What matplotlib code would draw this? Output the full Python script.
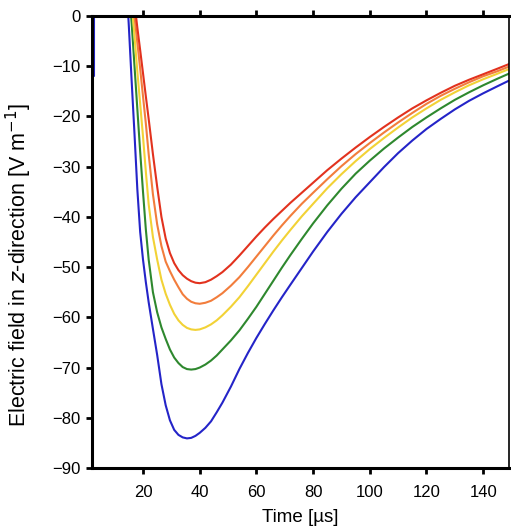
import matplotlib
matplotlib.use('Agg')
from matplotlib import pyplot as plt

plt.rcParams['font.family'] = ['Liberation Sans', 'DejaVu Sans']

# time axis [us], shared by all five curves
t = [14, 15, 16, 17, 18, 19, 20, 21, 22, 23.5, 25, 26.5, 28, 29.5, 31, 32.5,
     34, 35.5, 37, 38.5, 40, 42, 44, 46, 48, 51, 54, 57, 60, 63, 66, 69, 72,
     76, 80, 85, 90, 95, 100, 105, 110, 115, 120, 125, 130, 135, 140, 145, 149]

red = [20, 14, 8, 2.5, -2.3, -6.8, -11.4, -16, -20.5, -27.5, -34.0, -40.0,
       -44.3, -47.2, -49.2, -50.6, -51.6, -52.3, -52.8, -53.1, -53.2, -53.0,
       -52.5, -51.8, -51.0, -49.5, -47.7, -45.8, -43.9, -42.1, -40.4, -38.8,
       -37.2, -35.2, -33.2, -30.7, -28.4, -26.2, -24.1, -22.1, -20.2, -18.4,
       -16.8, -15.3, -13.9, -12.7, -11.6, -10.5, -9.6]
orange = [15, 10, 5, 0, -5.3, -10.5, -16, -21.4, -27.5, -35.5, -41.5, -45.8,
          -48.9, -50.8, -52.5, -54.0, -55.4, -56.3, -56.9, -57.2, -57.3, -57.1,
          -56.7, -56.0, -55.2, -53.7, -52.0, -50.0, -47.9, -45.8, -43.7, -41.7,
          -39.8, -37.4, -35.2, -32.5, -29.9, -27.5, -25.3, -23.2, -21.2, -19.3,
          -17.5, -15.9, -14.5, -13.2, -12.0, -11.0, -10.1]
yellow = [12, 7, 2.5, -4, -11, -17.5, -24, -31, -37.5, -44, -48.5, -52.5,
          -55.3, -57.5, -59.3, -60.6, -61.5, -62.1, -62.4, -62.5, -62.4, -62.0,
          -61.4, -60.6, -59.6, -57.9, -56.0, -53.8, -51.5, -49.2, -46.9, -44.7,
          -42.6, -39.9, -37.4, -34.3, -31.5, -28.9, -26.5, -24.3, -22.2, -20.2,
          -18.4, -16.7, -15.2, -13.8, -12.6, -11.5, -10.6]
green = [12, 6, -1.5, -10, -18.5, -27, -35, -42.5, -48.5, -55, -59, -62,
         -64.3, -66.4, -68.0, -69.1, -69.9, -70.3, -70.4, -70.3, -70.0, -69.4,
         -68.6, -67.6, -66.4, -64.6, -62.6, -60.3, -57.9, -55.3, -52.7, -50.1,
         -47.6, -44.4, -41.3, -37.7, -34.4, -31.4, -28.8, -26.4, -24.2, -22.1,
         -20.2, -18.4, -16.7, -15.2, -13.8, -12.5, -11.5]
blue = [8, -2, -13, -23.5, -34.5, -43, -48.5, -53, -57, -62.3, -67.5, -73.3,
        -77.5, -80.5, -82.4, -83.4, -83.9, -84.1, -84.0, -83.6, -83.0, -82.0,
        -80.7, -78.9, -77.0, -73.8, -70.3, -67.1, -64.1, -61.3, -58.6, -56.0,
        -53.5, -50.2, -46.9, -43.0, -39.4, -36.1, -33.1, -30.1, -27.3, -24.8,
        -22.5, -20.5, -18.6, -16.9, -15.4, -14.0, -12.9]

# tail of the previous pulse at the left edge
blue_tail_t = [2.8, 2.8]
blue_tail = [0, -12]

fig = plt.figure(figsize=(5.11, 5.31), dpi=100)
ax = fig.add_axes([0.18, 0.1186, 0.816, 0.8513])

style = dict(lw=1.5, solid_joinstyle='round', solid_capstyle='round')
ax.plot(blue_tail_t, blue_tail, color='#2424c8', **style)
ax.plot(t, blue, color='#2424c8', **style)
ax.plot(t, green, color='#2e882e', **style)
ax.plot(t, yellow, color='#f2d236', **style)
ax.plot(t, orange, color='#f27d3c', **style)
ax.plot(t, red, color='#e2321e', **style)

ax.set_xlim(2.0, 149.1)
ax.set_ylim(-90, 0)
ax.set_xticks(range(20, 141, 20))
ax.set_yticks(range(-90, 1, 10))

for s in ax.spines.values():
    s.set_linewidth(2.2)
ax.spines['right'].set_linewidth(1.2)

ax.tick_params(axis='both', direction='out', length=4, width=2, labelsize=12, pad=4)
ax.tick_params(axis='x', top=True, pad=8)

ax.set_xlabel('Time [µs]', fontsize=13.5, labelpad=7)
ax.set_ylabel('Electric field in $z$-direction [V m$^{-1}$]', fontsize=15.5)
ax.yaxis.set_label_coords(-0.14, 0.45)

fig.savefig('out.png', dpi=100)
